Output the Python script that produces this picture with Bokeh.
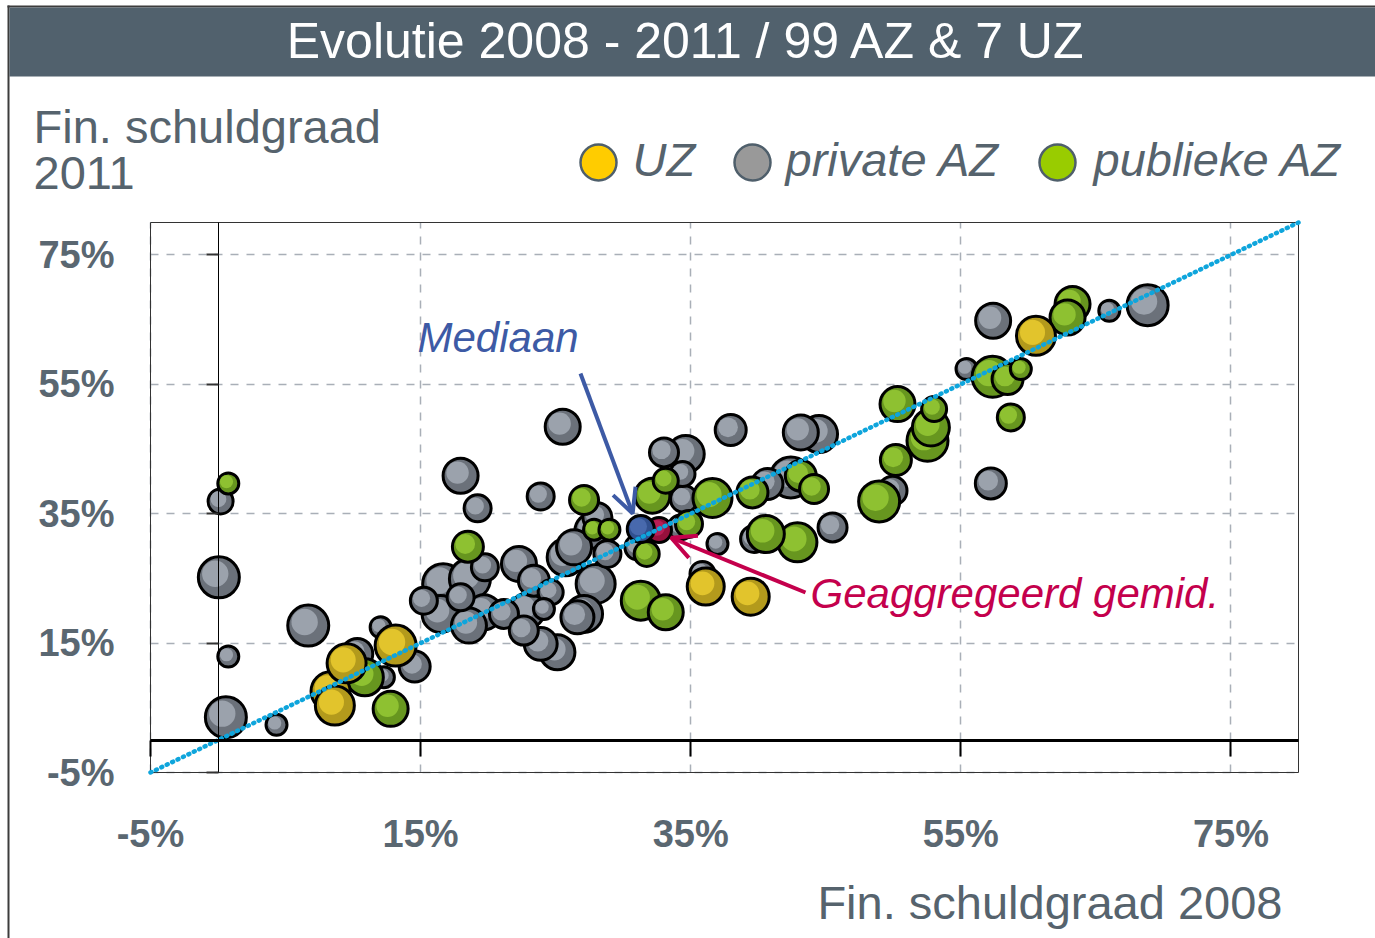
from bokeh.plotting import figure
from bokeh.models import (Range1d, FixedTicker, PrintfTickFormatter, LinearAxis, Label,
                          Arrow, OpenHead, ColumnDataSource, Grid, BoxAnnotation)
from bokeh.embed import file_html
from bokeh.resources import INLINE

# ---------------- data (percent) ----------------
title_text = "Evolutie 2008 - 2011 / 99 AZ & 7 UZ"
x_title = "Fin. schuldgraad 2008"
y_title_1 = "Fin. schuldgraad"
y_title_2 = "2011"
ticks = [-5, 15, 35, 55, 75]
legend_names = ["UZ", "private AZ", "publieke AZ"]

# universitaire ziekenhuizen (UZ)
uz_x = [8.33, 8.65, 9.52, 13.15, 36.11, 39.44, 60.56]
uz_y = [7.56, 5.35, 11.88, 14.61, 23.73, 22.18, 62.49]
uz_w = [19, 19, 19, 20, 18, 18, 19]

# publieke AZ
pub_x = [0.76, 10.87, 12.78, 18.50, 27.10, 27.84, 28.98, 33.15, 32.16, 36.61, 34.87,
         31.74, 31.30, 33.15, 39.57, 43.15, 44.13, 40.56, 42.90, 50.31, 53.02, 52.78,
         52.53, 50.19, 48.95, 58.70, 63.27, 62.90, 57.35, 58.46, 59.44]
pub_y = [39.68, 9.72, 4.84, 29.90, 37.12, 32.53, 32.53, 40.10, 37.78, 37.42, 33.41,
         28.78, 21.56, 19.76, 38.29, 40.87, 38.82, 31.86, 30.57, 51.94, 51.17, 48.33,
         46.27, 43.29, 36.90, 49.87, 67.39, 65.32, 56.16, 55.80, 57.35]
pub_w = [10, 18, 17, 15, 14, 10, 10, 12, 17, 19, 13,
         12, 19, 17, 15, 15, 14, 18, 19, 17, 12, 18,
         20, 15, 20, 13, 17, 17, 20, 15, 10]

# private AZ
prv_x = [0.19, 0.06, 0.76, 0.58, 4.33, 6.68, 10.31, 12.04, 12.28, 14.56, 16.67, 15.24,
         16.48, 17.96, 17.96, 19.22, 23.89, 25.52, 27.72, 28.09, 19.76, 18.65, 19.69,
         18.58, 21.17, 22.28, 23.39, 24.63, 22.90, 24.13, 22.64, 23.89, 25.13, 25.74,
         26.36, 27.96, 27.10, 26.61, 28.83, 37.96, 33.02, 34.63, 34.39, 34.50, 34.26,
         31.05, 35.87, 36.98, 40.68, 42.41, 43.15, 44.50, 45.50, 39.69, 49.94, 57.22,
         57.39, 65.99, 68.83, 55.42]
prv_y = [36.90, 25.16, 12.92, 3.54, 2.37, 17.70, 13.33, 17.44, 9.72, 11.37, 24.11, 21.56,
         19.51, 22.07, 40.87, 35.82, 37.67, 48.44, 32.37, 34.43, 26.71, 24.92, 19.76,
         17.70, 19.51, 27.23, 24.65, 22.85, 20.02, 20.28, 16.93, 14.88, 13.58, 28.25,
         29.80, 24.14, 19.51, 18.98, 28.78, 47.93, 44.47, 44.22, 41.13, 37.27, 32.88,
         29.80, 25.69, 30.32, 39.59, 40.61, 47.56, 47.31, 32.88, 31.09, 38.55, 39.68,
         64.81, 66.35, 67.23, 57.35]
prv_w = [12, 20, 10, 20, 10, 20, 15, 10, 10, 15, 20, 13,
         18, 13, 17, 13, 13, 17, 17, 14, 13, 20, 17,
         17, 14, 17, 15, 12, 17, 10, 14, 16, 17, 18,
         17, 19, 18, 16, 13, 15, 14, 18, 12, 13, 12,
         12, 12, 10, 15, 20, 17, 18, 14, 13, 14, 15,
         17, 10, 20, 10]

# mediaan en geaggregeerd gemiddelde
med_x, med_y, med_w = [31.30], [32.64], [13]
agg_x, agg_y, agg_w = [32.65], [32.48], [12]

# ---------------- layout / styling ----------------
X0, X1 = -5, 80
Y0, Y1 = -5, 80
FRAME_W, FRAME_H = 1148, 550           # size of the data area in px
PX_PER_X = FRAME_W / (X1 - X0)
PX_PER_Y = FRAME_H / (Y1 - Y0)
M_LEFT, M_RIGHT, M_TOP, M_BOTTOM = 150, 77, 222, 166   # margins around the data area
W = FRAME_W + M_LEFT + M_RIGHT
H = FRAME_H + M_TOP + M_BOTTOM
SLATE = "#56636d"
FONT = "Liberation Sans"


def dx(px):
    """canvas pixel column -> data x"""
    return X0 + (px - M_LEFT) / PX_PER_X


def dy(py):
    """canvas pixel row -> data y"""
    return Y0 + (M_TOP + FRAME_H - py) / PX_PER_Y


def base(py, fs):
    """data y for a text baseline at canvas row py (compensates label baseline offset)"""
    return dy(py - 0.41 * fs)


groups = [
    (prv_x, prv_y, prv_w, "#6b717a", "#9ba2ac"),
    (pub_x, pub_y, pub_w, "#67961f", "#8ec131"),
    (uz_x, uz_y, uz_w, "#b39a1c", "#e2c42c"),
    (agg_x, agg_y, agg_w, "#96103c", "#b81d55"),
    (med_x, med_y, med_w, "#31508f", "#4869ad"),
]

cx, cy, cs, cf, cl, ca = [], [], [], [], [], []
for gx, gy, gw, outer, inner in groups:
    order = sorted(range(len(gx)), key=lambda i: -gw[i])
    for i in order:
        r = gw[i]
        cx.append(gx[i]); cy.append(gy[i]); cs.append(2 * r + 1)
        cf.append(outer); cl.append("black"); ca.append(1.0)
        cx.append(gx[i] - 0.18 * r / PX_PER_X); cy.append(gy[i] + 0.18 * r / PX_PER_Y)
        cs.append(2 * r * 0.66); cf.append(inner); cl.append(inner); ca.append(0.0)

src = ColumnDataSource(dict(x=cx, y=cy, size=cs, fill=cf, line=cl, la=ca))

p = figure(width=W, height=H, x_range=Range1d(dx(0), dx(W)), y_range=Range1d(dy(H), dy(0)),
           output_backend="svg", toolbar_location=None,
           x_axis_location=None, y_axis_location=None,
           min_border=0, min_border_left=0, min_border_right=0,
           min_border_top=0, min_border_bottom=0)
if p.title is not None:
    p.title.visible = False
p.background_fill_color = "white"
p.border_fill_color = "white"
p.outline_line_color = None
p.grid.visible = False

# page frame lines and title banner
p.add_layout(BoxAnnotation(left=dx(7), right=dx(9), top=dy(5), fill_color="#3c3c3c",
                           fill_alpha=1, line_alpha=0))
p.add_layout(BoxAnnotation(left=dx(7), top=dy(5), bottom=dy(7), fill_color="#3c3c3c",
                           fill_alpha=1, line_alpha=0))
p.add_layout(BoxAnnotation(left=dx(9), top=dy(7), bottom=dy(76), fill_color="#51616d",
                           fill_alpha=1, line_alpha=0))
p.add_layout(Label(x=dx(686), y=base(61, 50), text=title_text,
                   text_font=FONT, text_font_size="50px", text_color="white",
                   text_align="center", text_baseline="alphabetic"))

# grid lines limited to the data area
for dim in (0, 1):
    g = Grid(dimension=dim, ticker=FixedTicker(ticks=ticks),
             bounds=(X0, X1) if dim == 0 else (Y0, Y1),
             cross_bounds=(Y0, Y1) if dim == 0 else (X0, X1),
             grid_line_color="#a9afb7", grid_line_dash="8 8", grid_line_width=1.5)
    p.add_layout(g)

# data-area border
p.quad(left=[X0], right=[X1], bottom=[Y0], top=[Y1], fill_color=None,
       line_color="#333333", line_width=1)

# tick-label axes on the border of the data area
fmt = PrintfTickFormatter(format="%d%%")
lab_style = dict(axis_line_alpha=0, major_tick_out=0, major_tick_in=0,
                 minor_tick_out=0, minor_tick_in=0,
                 major_label_text_font=FONT, major_label_text_font_style="bold",
                 major_label_text_font_size="38px", major_label_text_color="#5a6771")
xlab = LinearAxis(fixed_location=Y0, bounds=(X0, X1), ticker=FixedTicker(ticks=ticks),
                  formatter=fmt, major_label_standoff=40, **lab_style)
ylab = LinearAxis(fixed_location=X0, bounds=(Y0, Y1), ticker=FixedTicker(ticks=ticks),
                  formatter=fmt, major_label_standoff=36, **lab_style)
p.add_layout(xlab, "below")
p.add_layout(ylab, "left")

# zero-crossing axes
xzero = LinearAxis(fixed_location=0, bounds=(X0, X1), ticker=FixedTicker(ticks=ticks),
                   axis_line_width=3, axis_line_color="black",
                   major_tick_out=16, major_tick_in=0, major_tick_line_width=2,
                   major_tick_line_color="black", minor_tick_out=0, minor_tick_in=0,
                   major_label_text_alpha=0, major_label_text_font_size="10px")
yzero = LinearAxis(fixed_location=0, bounds=(Y0, Y1), ticker=FixedTicker(ticks=ticks),
                   axis_line_width=1, axis_line_color="black",
                   major_tick_out=12, major_tick_in=0, major_tick_line_width=2,
                   major_tick_line_color="#333333", minor_tick_out=0, minor_tick_in=0,
                   major_label_text_alpha=0, major_label_text_font_size="10px")
p.add_layout(xzero, "below")
p.add_layout(yzero, "left")

# bubbles
p.scatter("x", "y", source=src, size="size", fill_color="fill", line_color="line",
          line_alpha="la", line_width=3, marker="circle")

# diagonal y = x
diag = [X0, X1]
p.line(diag, diag, line_color="#0ea5dc", line_width=4.5, line_dash="1 5", line_cap="round")

# legend
leg_px = [598, 752, 1057]
leg_tpx = [632, 785, 1093]
leg_colors = ["#ffcc00", "#999999", "#99cc00"]
p.scatter([dx(v) for v in leg_px], [dy(162)] * 3, size=36, fill_color=leg_colors,
          line_color="#4f5f6b", line_width=2.5, marker="circle")
for tx, name in zip(leg_tpx, legend_names):
    p.add_layout(Label(x=dx(tx), y=base(178, 47), text=name, text_font=FONT,
                       text_font_style="italic", text_font_size="47px", text_color=SLATE,
                       text_baseline="alphabetic"))

# axis titles
p.add_layout(Label(x=dx(33), y=base(145, 47), text=y_title_1, text_font=FONT,
                   text_font_size="47px", text_color=SLATE, text_baseline="alphabetic"))
p.add_layout(Label(x=dx(33), y=base(192, 47), text=y_title_2, text_font=FONT,
                   text_font_size="47px", text_color=SLATE, text_baseline="alphabetic"))
p.add_layout(Label(x=dx(1282), y=base(921, 47), text=x_title, text_font=FONT,
                   text_font_size="47px", text_color=SLATE, text_baseline="alphabetic",
                   text_align="right"))

# annotations
BLUE = "#3d5aa5"
RED = "#c4004c"
p.add_layout(Label(x=dx(417), y=base(354, 42), text="Mediaan", text_font=FONT,
                   text_font_style="italic", text_font_size="42px", text_color=BLUE,
                   text_baseline="alphabetic"))
p.add_layout(Arrow(x_start=dx(580), y_start=dy(373), x_end=med_x[0] - 0.6, y_end=med_y[0] + 2.4,
                   line_color=BLUE, line_width=4,
                   end=OpenHead(size=24, line_color=BLUE, line_width=4)))
p.add_layout(Label(x=dx(810), y=base(610, 42), text="Geaggregeerd gemid.", text_font=FONT,
                   text_font_style="italic", text_font_size="42px", text_color=RED,
                   text_baseline="alphabetic"))
p.add_layout(Arrow(x_start=dx(805), y_start=dy(592), x_end=agg_x[0] + 0.9, y_end=agg_y[0] - 1.2,
                   line_color=RED, line_width=4,
                   end=OpenHead(size=24, line_color=RED, line_width=4)))

open("out.html", "w").write(file_html(p, INLINE))
